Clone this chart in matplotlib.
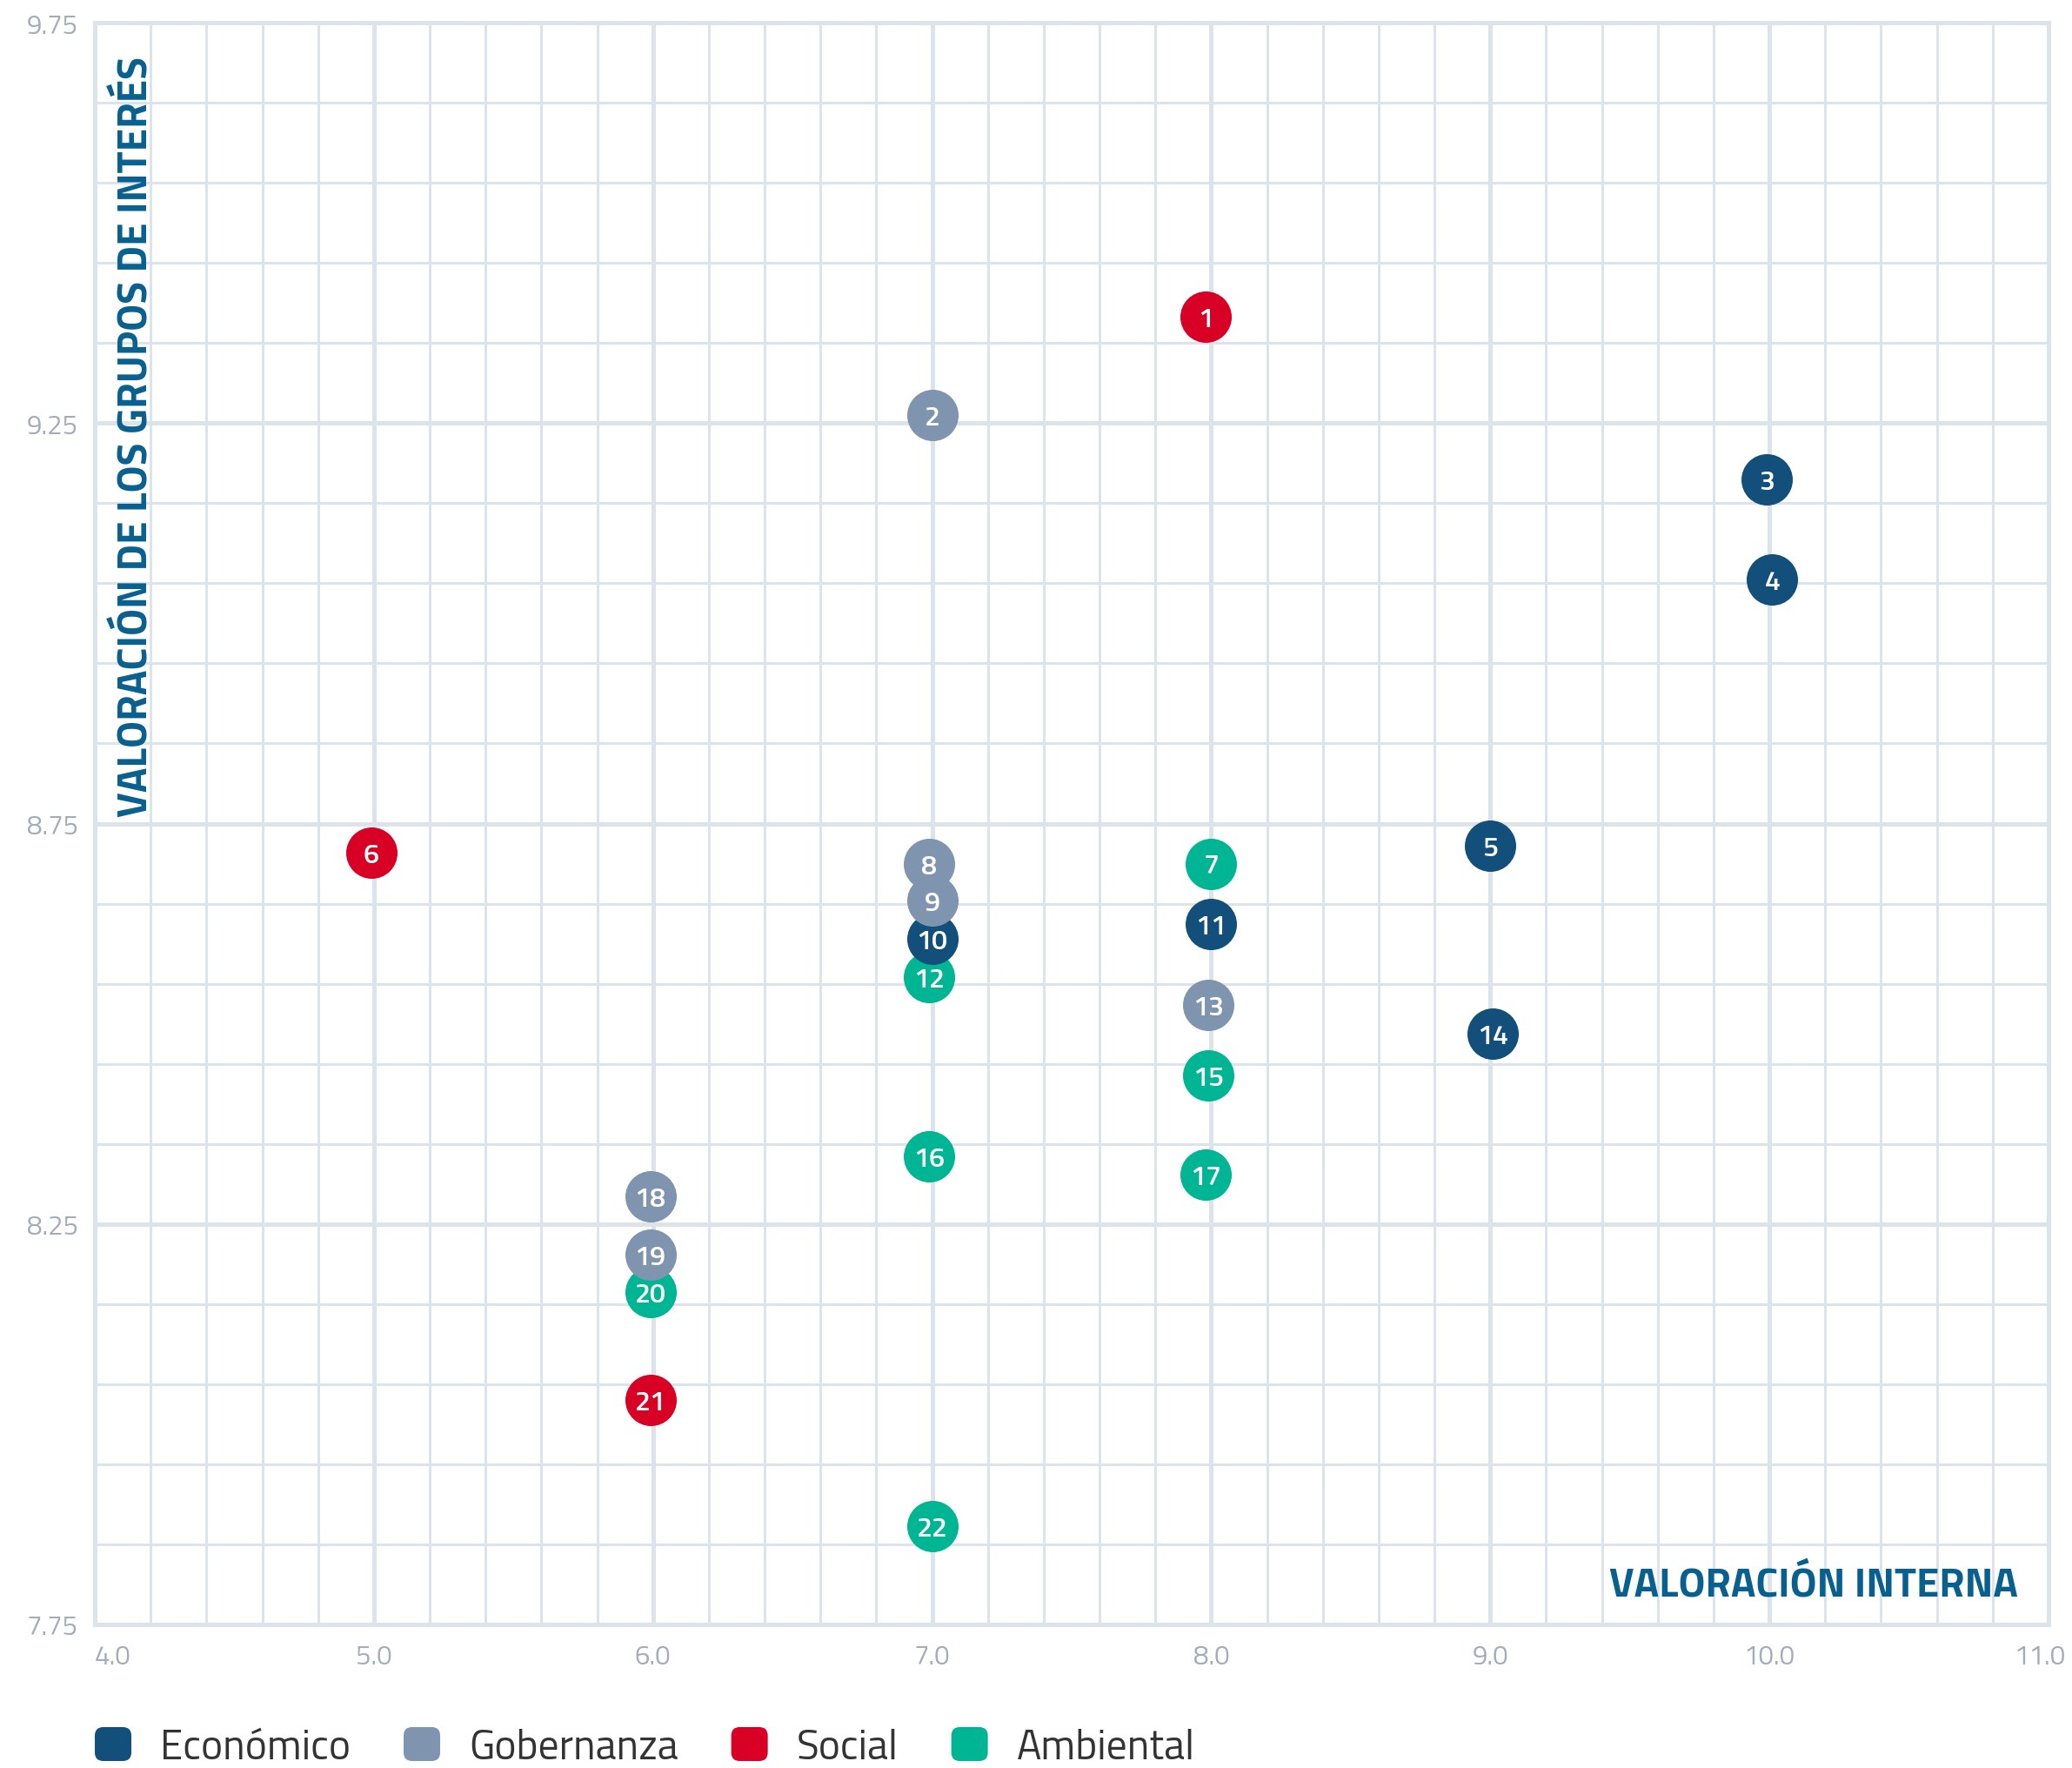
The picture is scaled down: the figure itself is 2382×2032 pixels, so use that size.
import matplotlib
matplotlib.use("Agg")
import matplotlib.pyplot as plt
import numpy as np
from matplotlib import font_manager as fm
from matplotlib.patches import Patch, FancyBboxPatch
from matplotlib.legend_handler import HandlerPatch
from matplotlib.transforms import ScaledTranslation

# ---------------- data ----------------
categories = ["Económico", "Gobernanza", "Social", "Ambiental"]
colors = ["#134f7b", "#7f94af", "#d80025", "#00b593"]

point_ids = [1, 2, 3, 4, 5, 6, 7, 8, 9, 10, 11, 12, 13, 14, 15, 16, 17, 18, 19, 20, 21, 22]
point_cat = ["Social", "Gobernanza", "Económico", "Económico", "Económico", "Social",
             "Ambiental", "Gobernanza", "Gobernanza", "Económico", "Económico", "Ambiental",
             "Gobernanza", "Económico", "Ambiental", "Ambiental", "Ambiental", "Gobernanza",
             "Gobernanza", "Ambiental", "Social", "Ambiental"]
valoracion_interna = [7.98, 7.00, 9.99, 10.01, 9.00, 4.99, 8.00, 6.99, 7.00, 7.00, 8.00, 6.99,
                      7.99, 9.01, 7.99, 6.99, 7.98, 5.99, 5.99, 5.99, 5.99, 7.00]
valoracion_grupos = [9.383, 9.26, 9.18, 9.055, 8.722, 8.714, 8.70, 8.70, 8.654, 8.606, 8.624, 8.558,
                     8.523, 8.488, 8.436, 8.334, 8.312, 8.285, 8.212, 8.165, 8.03, 7.873]

x_ticks = [4.0, 5.0, 6.0, 7.0, 8.0, 9.0, 10.0, 11.0]
y_ticks = [7.75, 8.25, 8.75, 9.25, 9.75]
x_title = "VALORACIÓN INTERNA"
y_title = "VALORACIÓN DE LOS GRUPOS DE INTERÉS"

# ---------------- fonts ----------------
names = {f.name for f in fm.fontManager.ttflist}

def pick(cands, default):
    for c in cands:
        if c in names:
            return c
    return default

FONT = pick(["Titillium Web", "Roboto Condensed", "Liberation Sans Narrow"], "DejaVu Sans")
NUMFONT = pick(["Titillium Web", "Open Sans"], "DejaVu Sans")

GRID = "#dde3eb"
TICKC = "#a4acba"
TITLEC = "#08608f"

W, H = 2382, 2033
fig = plt.figure(figsize=(W / 100, H / 100), dpi=100)
renderer = fig.canvas.get_renderer()

def fit_size(s, target_px, **kw):
    t = fig.text(0, 0, s, fontsize=40, **kw)
    w = t.get_window_extent(renderer).width
    t.remove()
    return 40 * target_px / w

L, R, T, B = 109, 2355, 27, 1868
ax = fig.add_axes([L / W, 1 - B / H, (R - L) / W, (B - T) / H])
ax.set_xlim(4, 11)
ax.set_ylim(7.75, 9.75)
ax.set_axisbelow(True)

ax.set_xticks(x_ticks)
ax.set_xticks(np.arange(4, 11.01, 0.2), minor=True)
ax.set_yticks(y_ticks)
ax.set_yticks(np.arange(7.75, 9.76, 0.1), minor=True)
ax.set_xticklabels([f"{v:.1f}" for v in x_ticks])
ax.set_yticklabels([f"{v:.2f}" for v in y_ticks])
ax.grid(which="major", color=GRID, linewidth=3.6)
ax.grid(which="minor", color=GRID, linewidth=2.2)
ax.tick_params(which="both", length=0)
ax.tick_params(axis="y", pad=14, labelcolor=TICKC)
ax.tick_params(axis="x", pad=16, labelcolor=TICKC)
tick_fs = fit_size("9.75", 59, family=FONT, fontweight="normal")
for lab in ax.get_xticklabels() + ax.get_yticklabels():
    lab.set_fontfamily(FONT)
    lab.set_fontweight("normal")
    lab.set_fontsize(tick_fs)
xl = ax.get_xticklabels()
xl[0].set_ha("left")
xl[-1].set_transform(xl[-1].get_transform() + ScaledTranslation(-10 / 100, 0, fig.dpi_scale_trans))
for sp in ax.spines.values():
    sp.set_color(GRID)
    sp.set_linewidth(3.6)

# ---------------- points ----------------
draw_order = ["Ambiental", "Social", "Económico", "Gobernanza"]
for z, cat in enumerate(draw_order):
    idx = [i for i, c in enumerate(point_cat) if c == cat]
    col = colors[categories.index(cat)]
    ax.scatter([valoracion_interna[i] for i in idx], [valoracion_grupos[i] for i in idx],
               s=1806, color=col, linewidths=0, zorder=3 + z)
num_fs = fit_size("10", 36, family=NUMFONT, fontweight="semibold")
for i, pid in enumerate(point_ids):
    ax.text(valoracion_interna[i], valoracion_grupos[i], str(pid), color="white",
            fontsize=num_fs, fontweight="semibold", family=NUMFONT,
            ha="center", va="center_baseline", zorder=10)

# ---------------- titles ----------------
fs_x = fit_size(x_title, 470, family=FONT, fontweight="bold")
ax.text((2320 - L) / (R - L), (B - 1835) / (B - T), x_title, transform=ax.transAxes,
        ha="right", va="baseline", fontsize=fs_x, fontweight="bold", family=FONT,
        color=TITLEC, zorder=11)
fs_y = fit_size(y_title, 875, family=FONT, fontweight="bold")
ax.text((157 - L) / (R - L), (B - 939) / (B - T), y_title, transform=ax.transAxes,
        rotation=90, ha="center", va="bottom", fontsize=fs_y, fontweight="bold",
        family=FONT, color=TITLEC, zorder=11)

# ---------------- legend ----------------
class RoundHandler(HandlerPatch):
    def create_artists(self, legend, orig_handle, xdescent, ydescent, width, height, fontsize, trans):
        p = FancyBboxPatch((-xdescent, -ydescent), width, height,
                           boxstyle="round,pad=0,rounding_size=7",
                           facecolor=orig_handle.get_facecolor(), edgecolor="none", transform=trans)
        return [p]

fs_leg = fit_size("Económico", 219, family=FONT, fontweight="normal")
fs_leg_px = fs_leg * 100 / 72
handles = [Patch(facecolor=c) for c in colors]
leg = fig.legend(handles, categories, loc="upper left", bbox_to_anchor=(L / W, 1 - 1986 / H),
                 ncol=4, frameon=False, borderpad=0, borderaxespad=0,
                 handlelength=42 / fs_leg_px, handleheight=42 / fs_leg_px,
                 handletextpad=33 / fs_leg_px, columnspacing=61 / fs_leg_px,
                 prop=fm.FontProperties(family=FONT, weight="normal", size=fs_leg),
                 handler_map={Patch: RoundHandler()})
for t in leg.get_texts():
    t.set_color("#333333")

fig.savefig("out.png", dpi=100)
